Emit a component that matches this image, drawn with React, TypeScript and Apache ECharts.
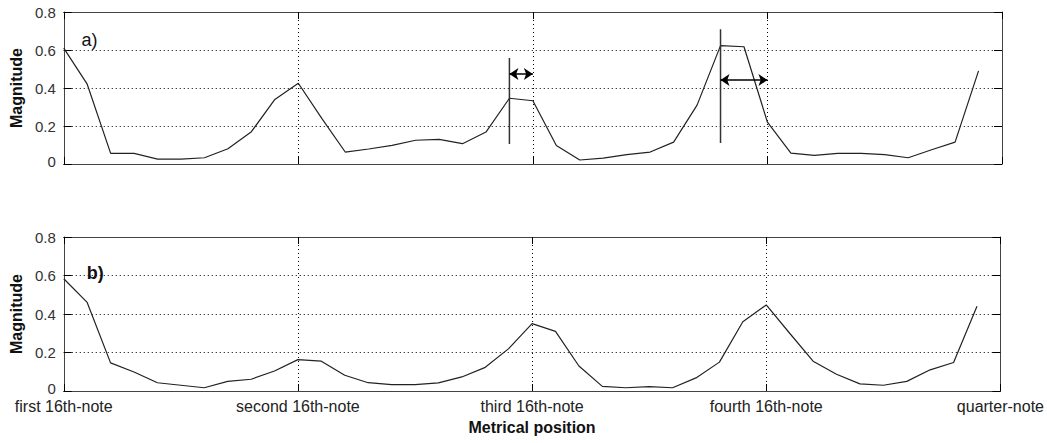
import React, { useEffect, useRef } from "react";
import * as echarts from "echarts";

// Metrical position index (10 steps per 16th-note, 0..40)
const tickLabels = ["first 16th-note", "second 16th-note", "third 16th-note", "fourth 16th-note", "quarter-note"];

// Panel a) magnitude per position (index 0..39)
const magnitudeA = [
  0.61, 0.42, 0.056, 0.056, 0.026, 0.026, 0.033, 0.08, 0.17, 0.34,
  0.425, 0.24, 0.063, 0.079, 0.098, 0.125, 0.13, 0.107, 0.168, 0.346,
  0.333, 0.097, 0.021, 0.031, 0.049, 0.063, 0.115, 0.31, 0.623, 0.617,
  0.22, 0.057, 0.045, 0.056, 0.056, 0.049, 0.033, 0.075, 0.115, 0.49,
];

// Panel b) magnitude per position (index 0..39)
const magnitudeB = [
  0.583, 0.46, 0.146, 0.099, 0.043, 0.03, 0.017, 0.05, 0.061, 0.104,
  0.163, 0.155, 0.082, 0.043, 0.033, 0.033, 0.042, 0.073, 0.123, 0.22,
  0.35, 0.31, 0.13, 0.024, 0.017, 0.023, 0.017, 0.068, 0.15, 0.36,
  0.447, 0.3, 0.155, 0.087, 0.037, 0.03, 0.05, 0.11, 0.148, 0.44,
];

// Annotations in panel a) (data units)
const markerX = [19, 28];
const markerFrom = [0.105, 0.11];
const markerTo = [0.558, 0.709];
const arrowFrom = [19, 28];
const arrowTo = [20, 30];
const arrowY = [0.474, 0.442];
const panelNames = ["a)", "b)"];
const panelNameX = [1.1, 1.35];
const panelNameY = [0.655, 0.615];

const FONT = "'Liberation Sans', Arial, Helvetica, sans-serif";
const AXIS_COLOR = "#444";
const TEXT_COLOR = "#222";

export default function App() {
  const ref = useRef<HTMLDivElement>(null);
  useEffect(() => {
    document.body.style.margin = "0";
    if (!ref.current) return;
    const chart = echarts.init(ref.current, null, { renderer: "svg" });

    const grids = [
      { left: 63, right: 45, top: 12, height: 152 },
      { left: 63, right: 45, top: 237, height: 154 },
    ];

    const xAxes: any[] = [];
    const yAxes: any[] = [];
    grids.forEach((_, g) => {
      xAxes.push({
        gridIndex: g,
        type: "value",
        min: 0,
        max: 40,
        interval: 10,
        position: "bottom",
        axisLine: { show: true, onZero: false, lineStyle: { color: AXIS_COLOR, width: 1 } },
        axisTick: { show: true, inside: true, length: 7, lineStyle: { color: "#000" } },
        splitLine: { show: true, lineStyle: { type: [1, 3], color: "#000", width: 1 } },
        axisLabel: {
          show: g === 1,
          margin: 7,
          fontSize: 16,
          color: TEXT_COLOR,
          fontFamily: FONT,
          formatter: (v: number) => tickLabels[Math.round(v / 10)] ?? "",
        },
        name: g === 1 ? "Metrical position" : "",
        nameLocation: "middle",
        nameGap: 28,
        nameTextStyle: { fontSize: 16, fontWeight: "bold", color: "#111", fontFamily: FONT },
      });
      xAxes.push({
        gridIndex: g,
        type: "value",
        min: 0,
        max: 40,
        interval: 10,
        position: "top",
        axisLine: { show: true, onZero: false, lineStyle: { color: AXIS_COLOR, width: 1 } },
        axisTick: { show: true, inside: true, length: 7, lineStyle: { color: "#000" } },
        splitLine: { show: false },
        axisLabel: { show: false },
      });
      yAxes.push({
        gridIndex: g,
        type: "value",
        min: 0,
        max: 0.8,
        interval: 0.2,
        position: "left",
        axisLine: { show: true, onZero: false, lineStyle: { color: AXIS_COLOR, width: 1 } },
        axisTick: { show: true, inside: true, length: 8, lineStyle: { color: "#000" } },
        splitLine: { show: true, lineStyle: { type: [1, 3], color: "#000", width: 1 } },
        axisLabel: {
          margin: 8,
          fontSize: 15,
          color: "#333",
          fontFamily: FONT,
          formatter: (v: number) => (v === 0 ? "{z|0}" : String(Math.round(v * 10) / 10)),
          rich: {
            z: { fontSize: 15, color: "#333", fontFamily: FONT, padding: [0, 0, 6, 0] },
          },
        },
        name: "Magnitude",
        nameLocation: "middle",
        nameRotate: 90,
        nameGap: 36,
        nameTextStyle: { fontSize: 16, fontWeight: "bold", color: "#111", fontFamily: FONT },
      });
      yAxes.push({
        gridIndex: g,
        type: "value",
        min: 0,
        max: 0.8,
        interval: 0.2,
        position: "right",
        axisLine: { show: true, onZero: false, lineStyle: { color: AXIS_COLOR, width: 1 } },
        axisTick: { show: true, inside: true, length: 8, lineStyle: { color: "#000" } },
        splitLine: { show: false },
        axisLabel: { show: false },
      });
    });

    const lineStyle = { color: "#222", width: 1.2 };
    const series: any[] = [];
    [magnitudeA, magnitudeB].forEach((vals, g) => {
      series.push({
        type: "line",
        xAxisIndex: g * 2,
        yAxisIndex: g * 2,
        data: vals.map((v, i) => [i, v]),
        showSymbol: false,
        symbol: "none",
        lineStyle,
        silent: true,
        markPoint: {
          symbol: "circle",
          symbolSize: 0,
          silent: true,
          data: [
            {
              coord: [panelNameX[g], panelNameY[g]],
              label: {
                show: true,
                formatter: panelNames[g],
                position: "inside",
                fontSize: 18,
                color: "#111",
                fontFamily: FONT,
                fontWeight: g === 1 ? "bold" : "normal",
              },
            },
          ],
        },
        markLine:
          g === 0
            ? {
                silent: true,
                symbol: ["arrow", "arrow"],
                symbolSize: 9,
                label: { show: false },
                lineStyle: { type: "solid", color: "#000", width: 1.5 },
                data: arrowY.map((y, k) => [
                  { coord: [arrowFrom[k], y] },
                  { coord: [arrowTo[k], y] },
                ]),
              }
            : undefined,
      });
    });
    markerX.forEach((x, k) => {
      series.push({
        type: "line",
        xAxisIndex: 0,
        yAxisIndex: 0,
        data: [
          [x, markerFrom[k]],
          [x, markerTo[k]],
        ],
        showSymbol: false,
        symbol: "none",
        lineStyle: { color: "#333", width: 1.5 },
        silent: true,
      });
    });

    chart.setOption({
      animation: false,
      backgroundColor: "#fff",
      textStyle: { fontFamily: FONT },
      grid: grids,
      xAxis: xAxes,
      yAxis: yAxes,
      series,
    });
    return () => chart.dispose();
  }, []);
  return <div ref={ref} style={{ width: 1047, height: 443 }} />;
}
